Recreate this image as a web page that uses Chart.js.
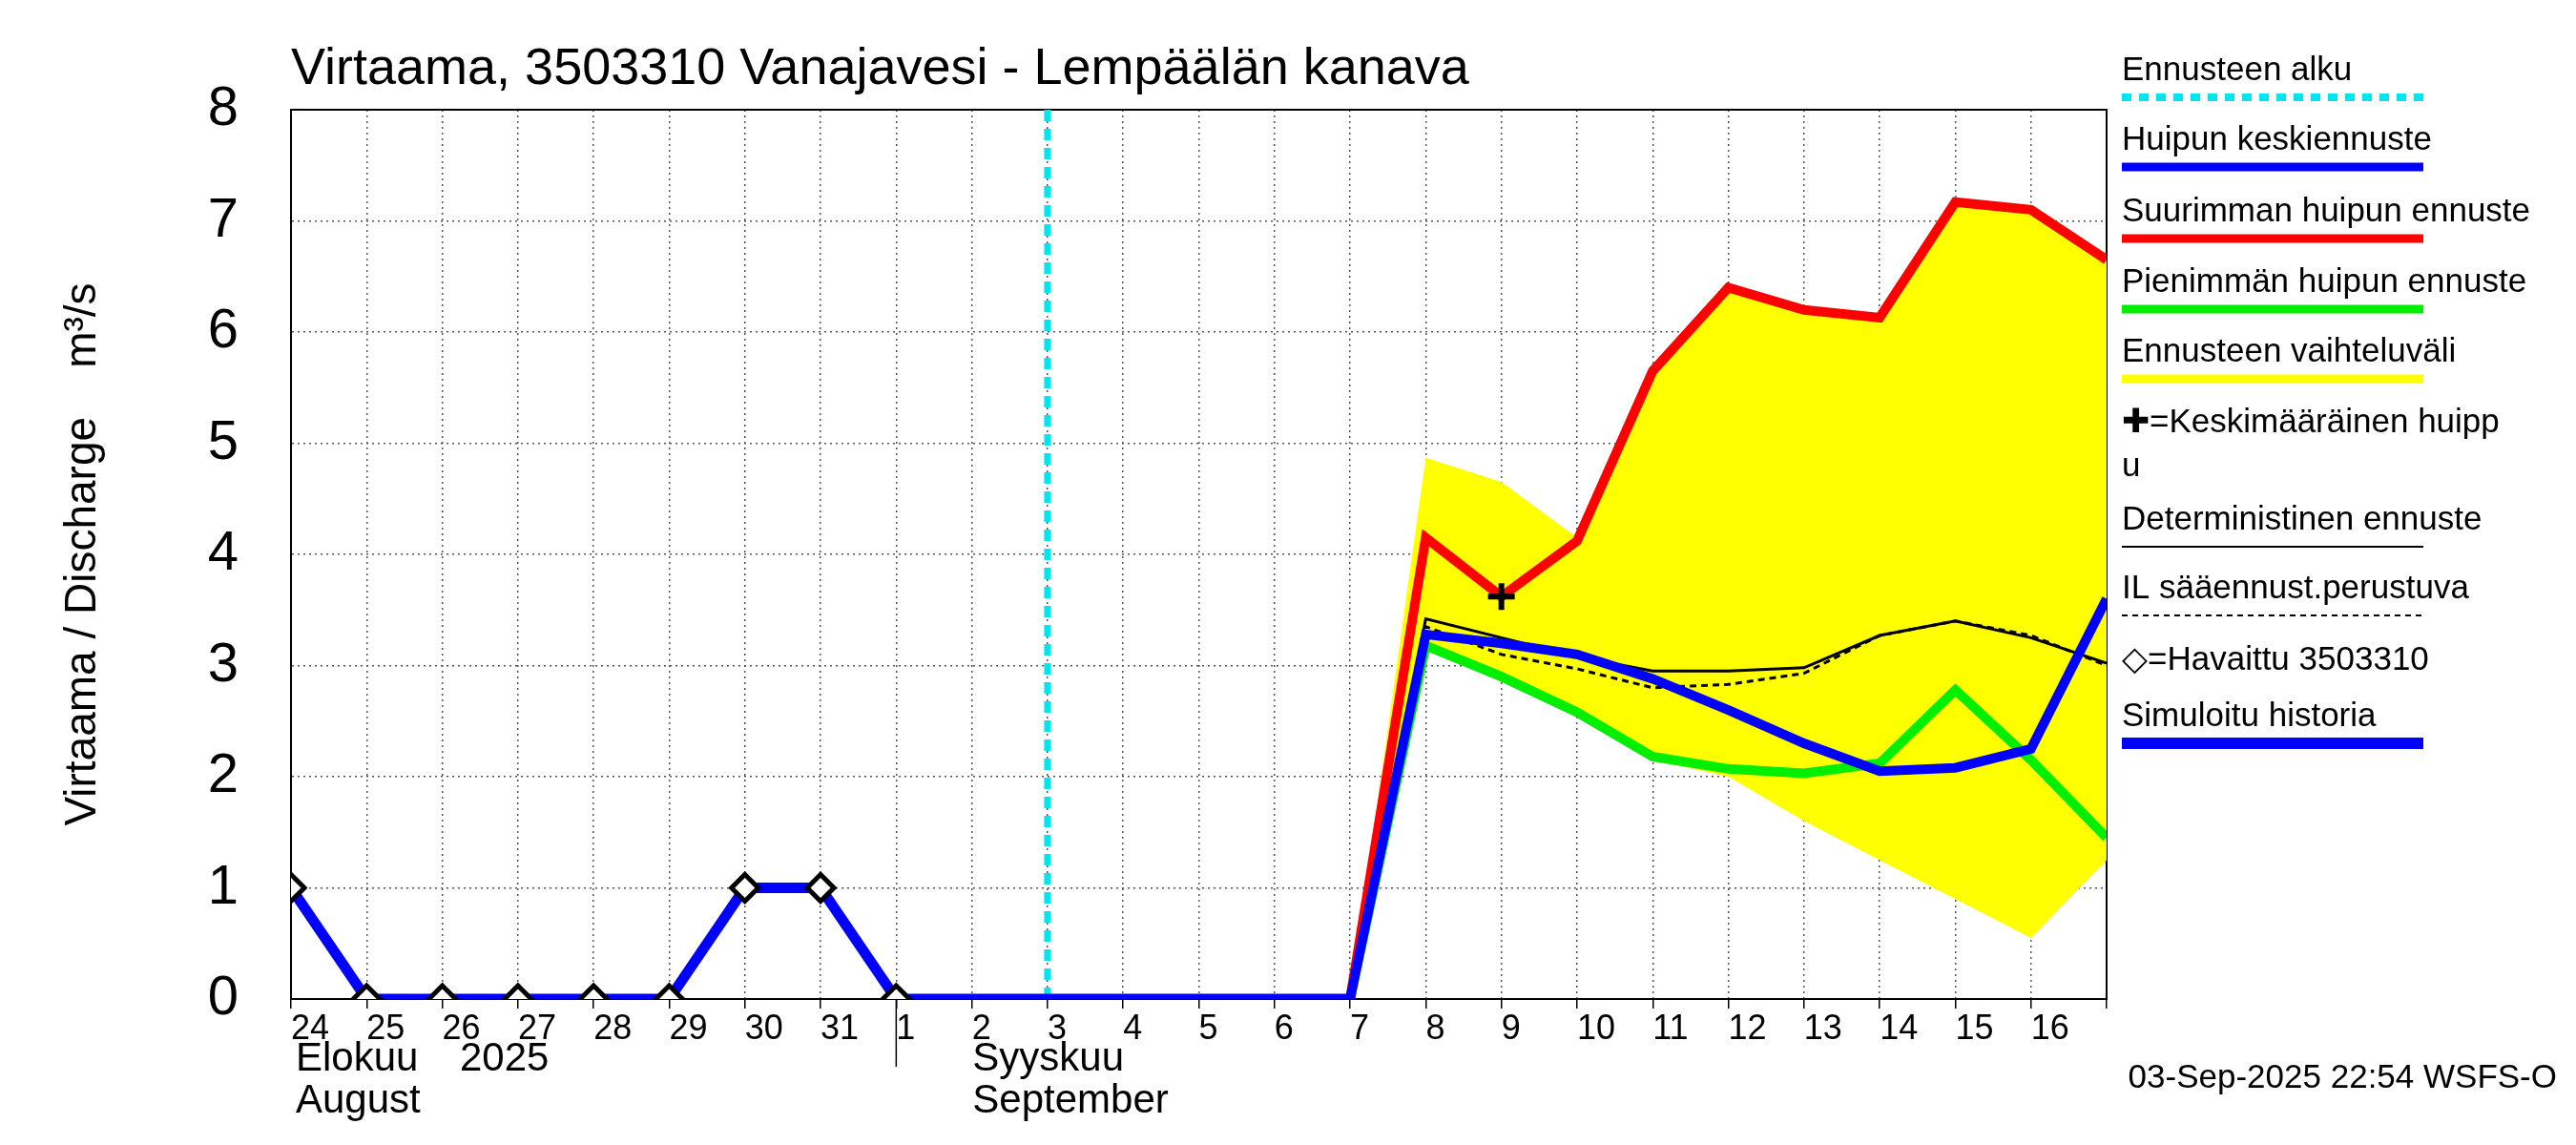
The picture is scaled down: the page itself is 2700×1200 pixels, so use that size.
<!DOCTYPE html>
<html>
<head>
<meta charset="utf-8">
<script src="https://cdn.jsdelivr.net/npm/chart.js@4.4.1/dist/chart.umd.min.js"></script>
<style>
  html, body { margin: 0; padding: 0; background: #fff; }
  #wrap { width: 2700px; height: 1200px; }
</style>
</head>
<body>
<div id="wrap"><canvas id="c" width="2700" height="1200"></canvas></div>
<script>
// days counted from 24 Aug 2025 00:00
const dayLabels = ['24','25','26','27','28','29','30','31','1','2','3','4','5','6','7','8','9','10','11','12','13','14','15','16'];
const yTicks = [0, 1, 2, 3, 4, 5, 6, 7, 8];

const obsDays = [0, 1, 2, 3, 4, 5, 6, 7, 8];
const obsValues = [1, 0, 0, 0, 0, 0, 1, 1, 0];
const simDays = [0, 1, 2, 3, 4, 5, 6, 7, 8, 9, 10, 11, 12, 13, 14];
const simValues = [1, 0, 0, 0, 0, 0, 1, 1, 0, 0, 0, 0, 0, 0, 0];

const fcDays = [14, 15, 16, 17, 18, 19, 20, 21, 22, 23, 24];
const maxPeak = [0, 4.15, 3.62, 4.12, 5.65, 6.4, 6.2, 6.13, 7.17, 7.1, 6.65];
const minPeak = [0, 3.18, 2.9, 2.58, 2.18, 2.07, 2.03, 2.12, 2.78, 2.15, 1.45];
const meanPeak = [0, 3.28, 3.2, 3.1, 2.88, 2.6, 2.3, 2.05, 2.08, 2.25, 3.6];
const deterministic = [0, 3.42, 3.25, 3.08, 2.95, 2.95, 2.98, 3.27, 3.4, 3.25, 3.02];
const ilForecast = [0, 3.35, 3.1, 2.97, 2.8, 2.83, 2.93, 3.27, 3.4, 3.27, 3.0];
const bandUpper = [0, 4.87, 4.65, 4.15, 5.65, 6.4, 6.2, 6.13, 7.17, 7.1, 6.65];
const bandLower = [0, 3.15, 2.9, 2.58, 2.15, 2.0, 1.6, 1.25, 0.9, 0.55, 1.25];
const forecastStart = 10;
const avgPeak = { x: 16, y: 3.62 };

const pts = (xs, ys) => xs.map((x, i) => ({ x: x, y: ys[i] }));
const FONT = '"Liberation Sans", Arial, sans-serif';

const legendItems = [
  { text: 'Ennusteen alku', color: '#00e5ee', width: 8, dash: [10, 8] },
  { text: 'Huipun keskiennuste', color: '#0000ff', width: 9 },
  { text: 'Suurimman huipun ennuste', color: '#ff0000', width: 9 },
  { text: 'Pienimmän huipun ennuste', color: '#00ee00', width: 9 },
  { text: 'Ennusteen vaihteluväli', color: '#ffff00', width: 9 },
  { text: '✚=Keskimääräinen huipp', text2: 'u' },
  { text: 'Deterministinen ennuste', color: '#000', width: 2 },
  { text: 'IL sääennust.perustuva', color: '#000', width: 2, dash: [6, 5] },
  { text: '◇=Havaittu 3503310' },
  { text: 'Simuloitu historia', color: '#0000ff', width: 12 }
];
const legendY = [72, 145, 220, 294, 367, 441, 543, 615, 690, 749];

const decorations = {
  id: 'decorations',
  afterDraw(chart) {
    const ctx = chart.ctx;
    const x = chart.scales.x;
    const area = chart.chartArea;
    ctx.save();
    ctx.fillStyle = '#000';
    ctx.textBaseline = 'alphabetic';
    ctx.font = '54px ' + FONT;
    ctx.fillText('Virtaama, 3503310 Vanajavesi - Lempäälän kanava', 305, 88);

    // month labels
    ctx.font = '42px ' + FONT;
    ctx.fillText('Elokuu', 310, 1122);
    ctx.fillText('2025', 482, 1122);
    ctx.fillText('August', 310, 1166);
    const sx = x.getPixelForValue(8);
    ctx.fillText('Syyskuu', sx + 80, 1122);
    ctx.fillText('September', sx + 80, 1166);
    ctx.strokeStyle = '#000';
    ctx.lineWidth = 1.5;
    ctx.beginPath();
    ctx.moveTo(sx, area.bottom);
    ctx.lineTo(sx, 1118);
    ctx.stroke();

    // legend
    ctx.font = '35px ' + FONT;
    legendItems.forEach((it, i) => {
      const y = legendY[i];
      ctx.fillStyle = '#000';
      ctx.fillText(it.text, 2224, y + 12);
      if (it.text2) ctx.fillText(it.text2, 2224, y + 58);
      if (it.color) {
        ctx.strokeStyle = it.color;
        ctx.lineWidth = it.width;
        ctx.setLineDash(it.dash || []);
        ctx.beginPath();
        ctx.moveTo(2224, y + 30);
        ctx.lineTo(2540, y + 30);
        ctx.stroke();
        ctx.setLineDash([]);
      }
    });

    ctx.font = '35px ' + FONT;
    ctx.fillStyle = '#000';
    ctx.textAlign = 'right';
    ctx.fillText('03-Sep-2025 22:54 WSFS-O', 2680, 1140);
    ctx.restore();
  }
};

new Chart(document.getElementById('c'), {
  type: 'line',
  data: {
    datasets: [
      { label: 'band upper', data: pts(fcDays, bandUpper), borderWidth: 0, pointRadius: 0,
        backgroundColor: '#ffff00', fill: '+1', order: 10 },
      { label: 'band lower', data: pts(fcDays, bandLower), borderWidth: 0, pointRadius: 0,
        backgroundColor: '#ffff00', fill: false, order: 11 },
      { label: 'start', data: [{ x: forecastStart, y: 0 }, { x: forecastStart, y: 8 }],
        borderColor: '#00e5ee', borderWidth: 7, borderDash: [12, 8], pointRadius: 0, order: 9 },
      { label: 'max', data: pts(fcDays, maxPeak), borderColor: '#ff0000', borderWidth: 10, pointRadius: 0, order: 5 },
      { label: 'min', data: pts(fcDays, minPeak), borderColor: '#00ee00', borderWidth: 10, pointRadius: 0, order: 5 },
      { label: 'det', data: pts(fcDays, deterministic), borderColor: '#000', borderWidth: 3, pointRadius: 0, order: 4 },
      { label: 'il', data: pts(fcDays, ilForecast), borderColor: '#000', borderWidth: 3, borderDash: [7, 5], pointRadius: 0, order: 4 },
      { label: 'mean', data: pts(fcDays, meanPeak), borderColor: '#0000ff', borderWidth: 10, pointRadius: 0, order: 3 },
      { label: 'sim', data: pts(simDays, simValues), borderColor: '#0000ff', borderWidth: 11, pointRadius: 0, order: 3 },
      { label: 'obs', data: pts(obsDays, obsValues), showLine: false, pointStyle: 'rectRot', pointRadius: 14,
        pointBackgroundColor: '#fff', pointBorderColor: '#000', pointBorderWidth: 5, order: 1 },
      { label: 'avg', data: [avgPeak], showLine: false, pointStyle: 'cross', pointRadius: 14,
        pointBorderColor: '#000', pointBorderWidth: 6, order: 0 }
    ]
  },
  options: {
    responsive: false,
    animation: false,
    devicePixelRatio: 1,
    layout: { padding: { left: 0, top: 115, right: 492, bottom: 0 } },
    plugins: { legend: { display: false }, tooltip: { enabled: false } },
    elements: { line: { tension: 0 } },
    scales: {
      x: {
        type: 'linear', min: 0, max: 24,
        afterFit: s => { s.height = 153; },
        afterBuildTicks: s => { s.ticks = dayLabels.map((_, i) => ({ value: i })).concat([{ value: 24 }]); },
        ticks: { autoSkip: false, maxRotation: 0, align: 'start', color: '#000', padding: 0,
          font: { family: FONT, size: 36 },
          callback: v => dayLabels[v] !== undefined ? dayLabels[v] : '' },
        grid: { color: '#555', lineWidth: 1.5, tickLength: 10, tickColor: '#000' },
        border: { display: true, color: '#000', width: 2, dash: [2, 4] }
      },
      y: {
        min: 0, max: 8,
        afterFit: s => { s.width = 305; },
        afterBuildTicks: s => { s.ticks = yTicks.map(v => ({ value: v })); },
        ticks: { color: '#000', padding: 55, font: { family: FONT, size: 58 } },
        title: { display: true, text: 'Virtaama / Discharge    m³/s', color: '#000',
          font: { family: FONT, size: 46 }, padding: { top: 60, bottom: 20 } },
        grid: { color: '#555', lineWidth: 1.5, drawTicks: false },
        border: { color: '#000', width: 2, dash: [2, 4] }
      }
    }
  },
  plugins: [decorations, {
    id: 'frame',
    beforeDatasetsDraw(chart) {
      const { ctx, chartArea: a } = chart;
      ctx.save();
      ctx.strokeStyle = '#000';
      ctx.lineWidth = 2;
      ctx.strokeRect(a.left, a.top, a.right - a.left, a.bottom - a.top);
      ctx.restore();
    }
  }]
});
</script>
</body>
</html>
